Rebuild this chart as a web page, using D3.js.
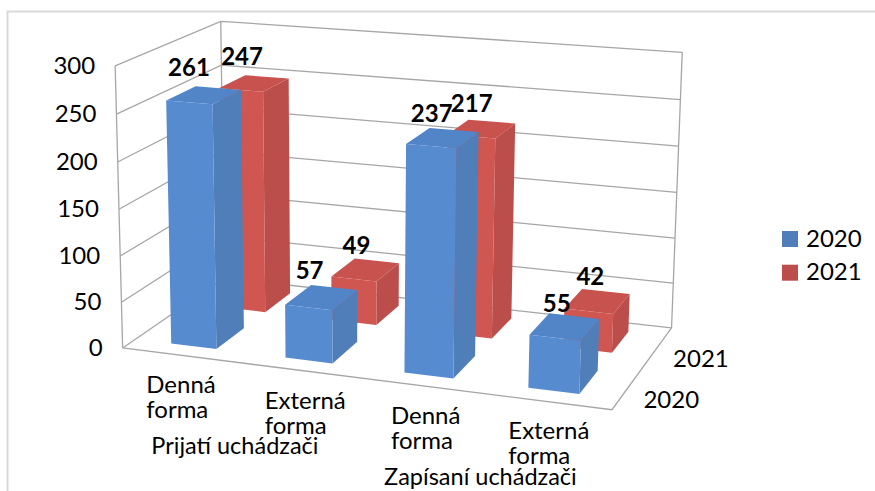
<!DOCTYPE html>
<html><head><meta charset="utf-8">
<script src="https://cdn.jsdelivr.net/npm/d3@7/dist/d3.min.js"></script>
<style>html,body{margin:0;padding:0;background:#fff}svg{display:block}text{font-family:Lato,"Open Sans",sans-serif;fill:#000}</style>
</head><body><svg id="c" width="875" height="491"></svg>
<script>
const categories = ["Denná forma|P", "Externá forma|P", "Denná forma|Z", "Externá forma|Z"];
const series = ["2020", "2021"];
const values2020 = [261, 57, 237, 55];
const values2021 = [247, 49, 217, 42];
const yTicks = [0, 50, 100, 150, 200, 250, 300];
const groupLabels = ["Prijatí uchádzači", "Zapísaní uchádzači"];

const W = 875, H = 491;
const svg = d3.select("#c");
// frame calibration: [u,v,w] unit cube corner -> screen
const frame = [
  [[0,0,0],[124,348]], [[1,0,0],[611.7,410]], [[1,1,0],[672,327.5]], [[0,1,0],[223,278]],
  [[0,0,1],[114,65.5]], [[1,1,1],[682,52.5]], [[0,1,1],[222,21.5]]
];
function solveProjection(pairs){
  const A=[],b=[];
  pairs.forEach(([[u,v,w],[x,y]])=>{
    A.push([u,v,w,1,0,0,0,0,-x*u,-x*v,-x*w]); b.push(x);
    A.push([0,0,0,0,u,v,w,1,-y*u,-y*v,-y*w]); b.push(y);
  });
  const n=11, N=d3.range(n).map(i=>d3.range(n+1).map(j=>
    j<n ? d3.sum(A,r=>r[i]*r[j]) : d3.sum(A,(r,k)=>r[i]*b[k])));
  for(let i=0;i<n;i++){
    let m=i; for(let r=i+1;r<n;r++) if(Math.abs(N[r][i])>Math.abs(N[m][i])) m=r;
    [N[i],N[m]]=[N[m],N[i]];
    for(let r=0;r<n;r++) if(r!==i){const f=N[r][i]/N[i][i]; for(let c=i;c<=n;c++) N[r][c]-=f*N[i][c];}
  }
  return N.map((r,i)=>r[n]/r[i]);
}
const P = solveProjection(frame);
const project=(u,v,w)=>{const d=P[8]*u+P[9]*v+P[10]*w+1;
  return [(P[0]*u+P[1]*v+P[2]*w+P[3])/d,(P[4]*u+P[5]*v+P[6]*w+P[7])/d];};

const uScale=d3.scaleBand().domain(categories).range([0.006,0.996]).paddingInner(0.6).paddingOuter(0.295);
const vScale=d3.scaleBand().domain(series).range([0.005,1.005]).paddingInner(0.45).paddingOuter(0.225);
const zScale=d3.scaleLinear().domain([0,300]).range([0,1]);
const line=d3.line();
const poly=pts=>line(pts)+"Z";

// chart area border
svg.append("path").attr("d",`M7.5,${H}V11.5H${W}`).attr("fill","none").attr("stroke","#d9d9d9").attr("stroke-width",2);

// walls & gridlines
const gridC="#a6a6a6";
const g=svg.append("g").attr("fill","none").attr("stroke",gridC).attr("stroke-width",1.3);
yTicks.forEach(t=>{const w=zScale(t);
  g.append("path").attr("d",line([project(0,0,w),project(0,1,w),project(1,1,w)]));});
g.append("path").attr("d",line([project(0,0,0),project(0,0,1)]));
g.append("path").attr("d",line([project(0,1,0),project(0,1,1)]));
g.append("path").attr("d",line([project(1,1,0),project(1,1,1)]));
g.append("path").attr("d",line([project(0,0,0),project(1,0,0),project(1,1,0)]));

// bars
const palette={"2020":{front:"#568bcf",side:"#4f7eb9",top:"#5285c7"},"2021":{front:"#cf5651",side:"#bb4d4a",top:"#c7524e"}};
const labelShift={"2020":{dx:[-15,-12,-11,-8],dy:[-19,-18,-16,-15]},"2021":{dx:[-12,-9,-10,-7],dy:[-18,-16,-17,-16]}};
const table=[["2021",values2021],["2020",values2020]];
const labelsLayer=[];
table.forEach(([s,vals])=>{
  const v0=vScale(s),v1=v0+vScale.bandwidth();
  categories.forEach((c,i)=>{
    const u0=uScale(c),u1=u0+uScale.bandwidth(),w=zScale(vals[i]),col=palette[s];
    const gb=svg.append("g").attr("stroke","none");
    gb.append("path").attr("fill",col.side).attr("d",poly([project(u1,v0,0),project(u1,v1,0),project(u1,v1,w),project(u1,v0,w)]));
    gb.append("path").attr("fill",col.top).attr("d",poly([project(u0,v0,w),project(u1,v0,w),project(u1,v1,w),project(u0,v1,w)]));
    gb.append("path").attr("fill",col.front).attr("d",poly([project(u0,v0,0),project(u1,v0,0),project(u1,v0,w),project(u0,v0,w)]));
    const t=project((u0+u1)/2,(v0+v1)/2,w);
    labelsLayer.push({x:t[0]+labelShift[s].dx[i],y:t[1]+labelShift[s].dy[i],text:vals[i]});
  });
});
// data labels
svg.append("g").selectAll("text").data(labelsLayer).join("text")
  .attr("x",d=>d.x).attr("y",d=>d.y).attr("text-anchor","middle")
  .attr("font-size",24).attr("font-weight",700).text(d=>d.text);

// value axis labels
svg.append("g").selectAll("text").data(yTicks).join("text")
  .attr("x",d=>project(0,0,zScale(d))[0]-20).attr("y",d=>project(0,0,zScale(d))[1]+8)
  .attr("text-anchor","end").attr("font-size",24).text(d=>d);

// depth axis labels
svg.append("g").selectAll("text").data(series).join("text")
  .attr("x",d=>{const v=vScale(d)+vScale.bandwidth()/2;return project(1,v,0)[0]+15;})
  .attr("y",d=>{const v=vScale(d)+vScale.bandwidth()/2;return project(1,v,0)[1]+21;})
  .attr("font-size",24).text(d=>d);

// category labels
const catDx=[-35,-33,-28,-37];
const catDy=[38,39,39,38];
categories.forEach((c,i)=>{
  const u=uScale(c)+uScale.bandwidth()/2,p=project(u,0,0),words=c.split("|")[0].split(" ");
  words.forEach((wd,j)=>svg.append("text").attr("x",p[0]+catDx[i]).attr("y",p[1]+catDy[i]+j*24.5).attr("font-size",24).text(wd));
});
// group labels
const groupDx=[-4,-1];
groupLabels.forEach((t,i)=>{
  const a=uScale(categories[i*2]),b=uScale(categories[i*2+1])+uScale.bandwidth(),p=project((a+b)/2,0,0);
  svg.append("text").attr("x",p[0]+groupDx[i]).attr("y",p[1]+91.5).attr("text-anchor","middle").attr("font-size",23.5).text(t);
});

// legend
const legend=svg.append("g").selectAll("g").data(series).join("g")
  .attr("transform",(d,i)=>`translate(782,${231+i*33.7})`);
legend.append("rect").attr("width",16).attr("height",16).attr("fill",d=>palette[d].side);
legend.append("text").attr("x",24).attr("y",15.5).attr("font-size",24).text(d=>d);
</script></body></html>
